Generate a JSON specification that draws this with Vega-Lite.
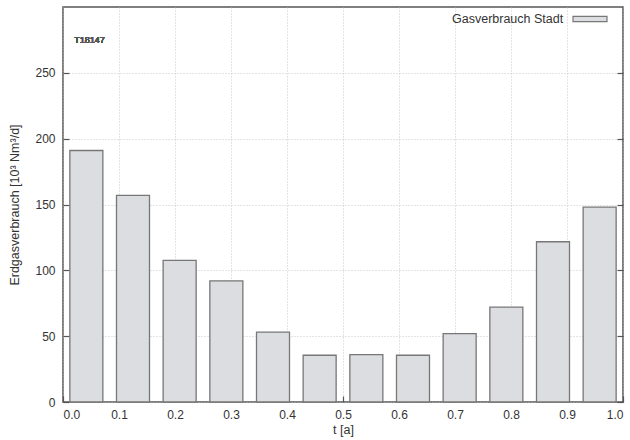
{
  "$schema": "https://vega.github.io/schema/vega-lite/v6.json",
  "width": 560,
  "height": 395,
  "autosize": "none",
  "padding": {"left": 63, "top": 7, "right": 7, "bottom": 38},
  "background": "white",
  "config": {
    "font": "Liberation Sans",
    "view": {"stroke": "#555", "strokeWidth": 1.5},
    "axis": {
      "labelFont": "Liberation Sans",
      "titleFont": "Liberation Sans",
      "labelFontSize": 12,
      "titleFontSize": 12.5,
      "titleFontWeight": "normal",
      "labelColor": "#333",
      "titleColor": "#333",
      "domain": false,
      "tickColor": "#555",
      "tickWidth": 1.2,
      "gridColor": "#bbb",
      "gridDash": [1, 2],
      "gridWidth": 0.8
    }
  },
  "data": {
    "values": [
      {"t": 0.0417, "v": 191},
      {"t": 0.125, "v": 157},
      {"t": 0.2083, "v": 107.5},
      {"t": 0.2917, "v": 92},
      {"t": 0.375, "v": 53},
      {"t": 0.4583, "v": 35.5},
      {"t": 0.5417, "v": 36},
      {"t": 0.625, "v": 35.5},
      {"t": 0.7083, "v": 52},
      {"t": 0.7917, "v": 72},
      {"t": 0.875, "v": 121.7},
      {"t": 0.9583, "v": 148}
    ]
  },
  "layer": [
    {
      "mark": {"type": "bar", "size": 33, "fill": "#dcdde0", "stroke": "#777", "strokeWidth": 1.3},
      "encoding": {
        "x": {
          "field": "t", "type": "quantitative",
          "scale": {"domain": [0, 1], "nice": false, "zero": false, "padding": 0},
          "axis": {"values": [0, 0.1, 0.2, 0.3, 0.4, 0.5, 0.6, 0.7, 0.8, 0.9, 1.0], "format": ".1f", "title": "t [a]", "tickSize": -6, "labelPadding": 13, "titlePadding": 3}
        },
        "y": {
          "field": "v", "type": "quantitative",
          "scale": {"domain": [0, 300], "nice": false, "padding": 0},
          "axis": {"values": [0, 50, 100, 150, 200, 250], "title": "Erdgasverbrauch [10³ Nm³/d]", "tickSize": -6, "labelPadding": 14, "titlePadding": 13}
        },
        "fill": {
          "datum": "Gasverbrauch Stadt",
          "type": "nominal",
          "scale": {"range": ["#dcdde0"]},
          "legend": {
            "orient": "none",
            "legendX": 389,
            "legendY": -6,
            "title": "Gasverbrauch Stadt",
            "titleOrient": "left",
            "titleAnchor": "middle",
            "titleBaseline": "top",
            "titleFontSize": 12.5,
            "titleFontWeight": "normal",
            "titleColor": "#333",
            "titleFont": "Liberation Sans",
            "titlePadding": 8,
            "labelExpr": "''",
            "labelOffset": 0,
            "symbolType": "M-1,-0.15L1,-0.15L1,0.15L-1,0.15Z",
            "symbolSize": 1156,
            "symbolStrokeColor": "#777",
            "symbolStrokeWidth": 1.2
          }
        }
      }
    },
    {
      "mark": {"type": "text", "fontSize": 9, "color": "#555", "align": "left", "baseline": "middle", "fontWeight": "normal"},
      "encoding": {
        "x": {"datum": 0.02, "type": "quantitative"},
        "y": {"datum": 275, "type": "quantitative", "axis": {"orient": "right", "values": [0, 50, 100, 150, 200, 250], "labels": false, "title": null, "tickSize": -6, "grid": false}},
        "text": {"value": "T18147"}
      }
    }
  ],
  "resolve": {"axis": {"y": "independent"}}
}
